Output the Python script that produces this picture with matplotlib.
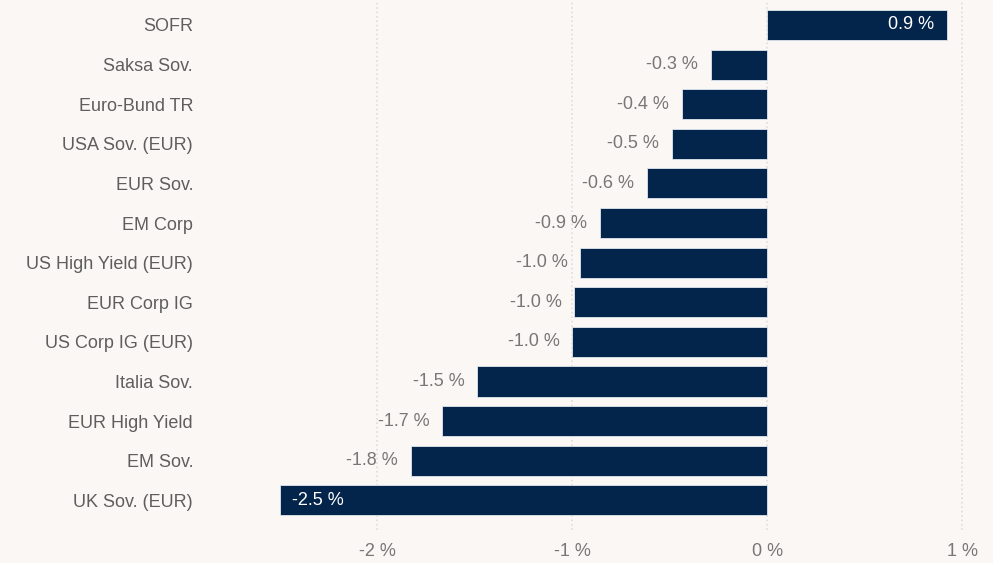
import matplotlib.pyplot as plt
from matplotlib.ticker import FuncFormatter

plt.rcParams['font.family'] = ['Liberation Sans', 'DejaVu Sans']

categories = ['SOFR', 'Saksa Sov.', 'Euro-Bund TR', 'USA Sov. (EUR)', 'EUR Sov.',
              'EM Corp', 'US High Yield (EUR)', 'EUR Corp IG', 'US Corp IG (EUR)',
              'Italia Sov.', 'EUR High Yield', 'EM Sov.', 'UK Sov. (EUR)']
values = [0.92, -0.29, -0.44, -0.49, -0.62, -0.86, -0.96, -0.99, -1.0,
          -1.49, -1.67, -1.83, -2.50]
# labels drawn inside the bar
inside = ['SOFR', 'UK Sov. (EUR)']

bg = '#fbf7f4'
bar_color = '#03244b'
label_grey = '#5e5e5e'
value_grey = '#777777'

fig = plt.figure(figsize=(9.93, 5.63), dpi=100, facecolor=bg)
ax = fig.add_axes([200 / 993, 33 / 563, 793 / 993, 530 / 563], facecolor=bg)

pos = list(range(len(categories)))
ax.barh(pos, values, height=0.76, color=bar_color, edgecolor='#dfe6ee',
        linewidth=0.6, zorder=3)

for i, (cat, v) in enumerate(zip(categories, values)):
    txt = f'{v:.1f} %'
    if cat in inside:
        if v > 0:
            ax.annotate(txt, (v, i), xytext=(-9, 0), textcoords='offset points',
                        ha='right', va='center', color='white', fontsize=13, zorder=4)
        else:
            ax.annotate(txt, (v, i), xytext=(9, 0), textcoords='offset points',
                        ha='left', va='center', color='white', fontsize=13, zorder=4)
    else:
        ax.annotate(txt, (v, i), xytext=(-9, 0), textcoords='offset points',
                    ha='right', va='center', color=value_grey, fontsize=13, zorder=4)

ax.set_xlim(-2.91, 1.157)
ax.set_ylim(12.75, -0.63)
ax.set_xticks([-2, -1, 0, 1])
ax.xaxis.set_major_formatter(FuncFormatter(lambda x, p: f'{x:.0f} %'))
ax.set_yticks(pos)
ax.set_yticklabels(categories)
ax.tick_params(axis='both', length=0, labelsize=13)
ax.tick_params(axis='y', pad=5, colors=label_grey)
ax.tick_params(axis='x', pad=9, colors=value_grey)
ax.grid(axis='x', color='#dddddd', linestyle=':', linewidth=1.2, zorder=0)
for s in ax.spines.values():
    s.set_visible(False)

fig.savefig('out.png', dpi=100, facecolor=bg)
